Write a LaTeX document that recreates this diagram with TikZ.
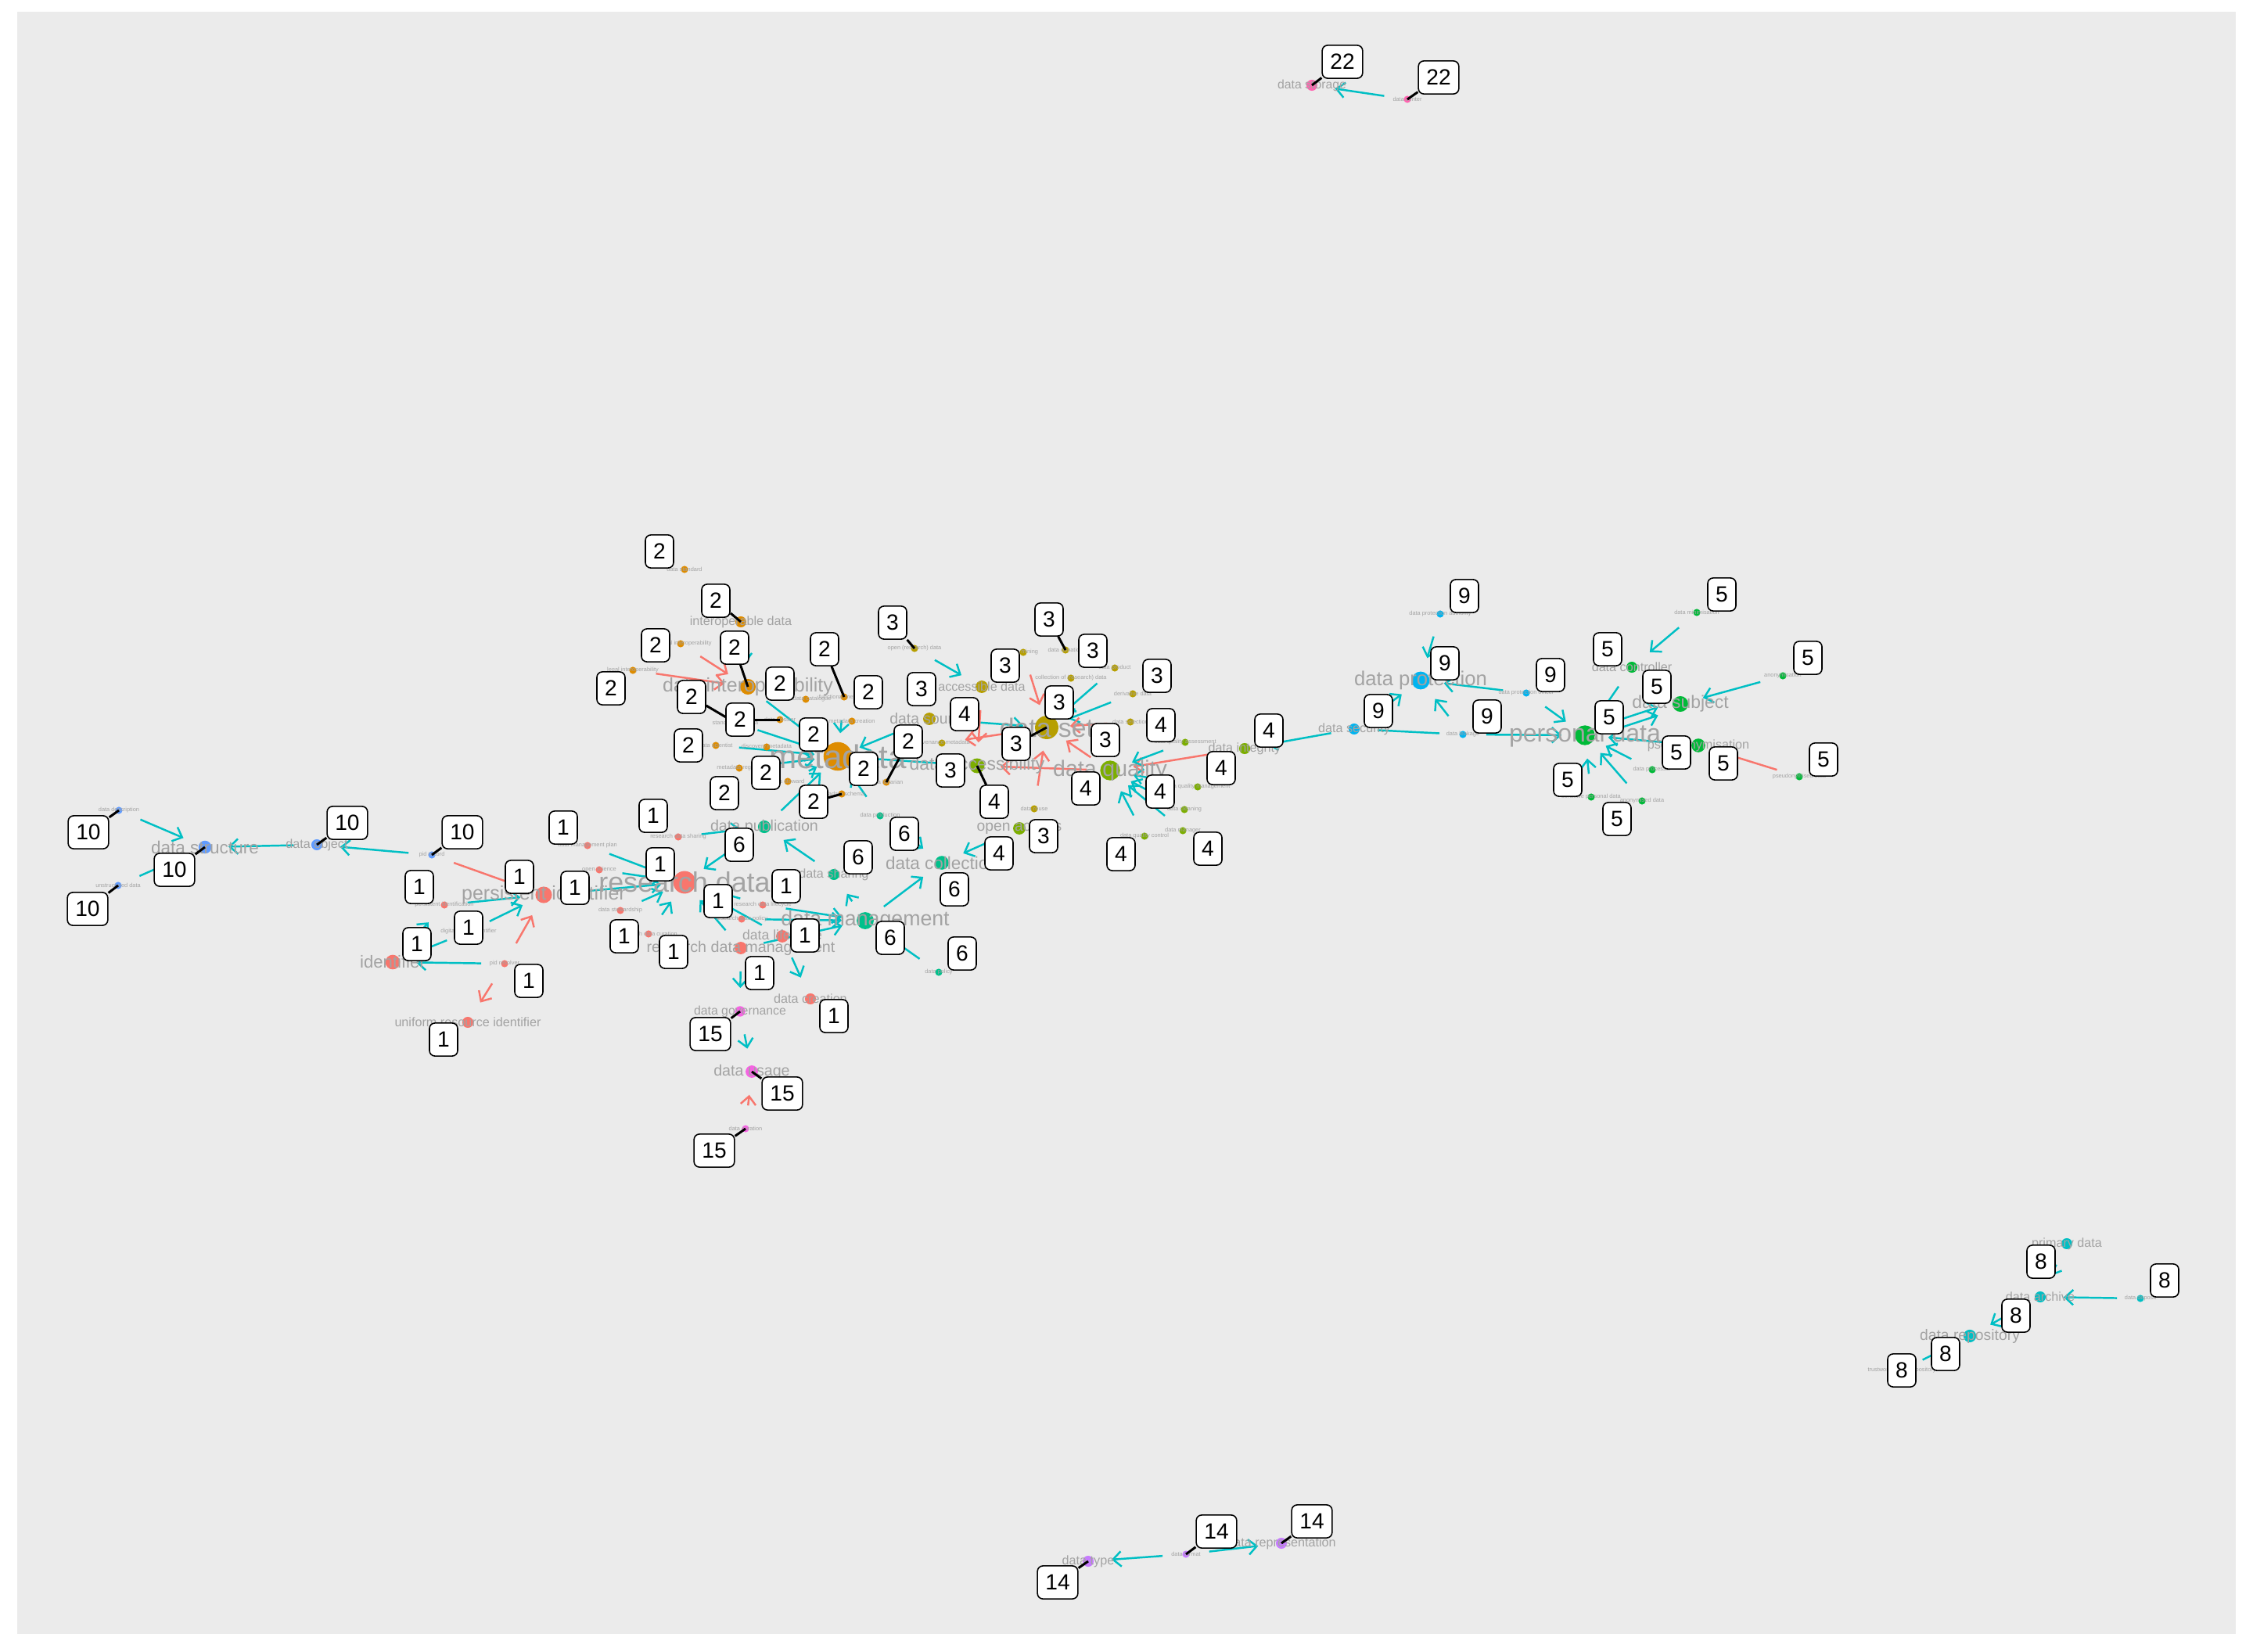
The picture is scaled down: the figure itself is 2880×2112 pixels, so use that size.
\documentclass[tikz,border=0pt]{standalone}
\usepackage{fontspec}
\setmainfont{Liberation Sans}
\usetikzlibrary{arrows.meta}

\definecolor{c1}{HTML}{F8766D}
\definecolor{c2}{HTML}{DE8C00}
\definecolor{c3}{HTML}{B79F00}
\definecolor{c4}{HTML}{7CAE00}
\definecolor{c5}{HTML}{00BA38}
\definecolor{c6}{HTML}{00C08B}
\definecolor{c8}{HTML}{00BFC4}
\definecolor{c9}{HTML}{00B4F0}
\definecolor{c10}{HTML}{619CFF}
\definecolor{c14}{HTML}{C77CFF}
\definecolor{c15}{HTML}{F564E3}
\definecolor{c22}{HTML}{FF64B0}
\definecolor{edgecyan}{HTML}{00BFC4}
\definecolor{edgered}{HTML}{F8766D}
\definecolor{labgrey}{HTML}{A3A3A3}
\definecolor{panelgrey}{HTML}{EBEBEB}

\pgfdeclarelayer{bg}\pgfdeclarelayer{edges}\pgfdeclarelayer{lead}\pgfdeclarelayer{top}
\pgfsetlayers{bg,edges,main,lead,top}

\begin{document}
\begin{tikzpicture}[x=0.01cm, y=-0.01cm,
    kw/.style n args={3}{circle, inner sep=0pt, minimum size=#1, label={[kwlab=#2]center:#3}},
    kwlab/.style={text=labgrey, font=\fontsize{#1}{#1}\selectfont, inner sep=0pt},
    kwmin/.style={kw={2.6pt}{2.1}{#1}},
    kwsm/.style={kw={4pt}{4.6}{#1}},
    numbox/.style={draw=black, fill=white, rounded corners=2pt, line width=0.45pt, inner xsep=2.9pt, inner ysep=0pt, minimum height=12pt, font=\fontsize{8}{8}\selectfont},
    ec/.style={draw=edgecyan, line width=0.7pt, -{Straight Barb[length=3pt,width=5.5pt]}, shorten <=8.5pt, shorten >=8.5pt},
    er/.style={ec, draw=edgered},
    leader/.style={draw=black, line width=0.85pt}]

    \useasboundingbox (0,0) rectangle (2880,2112);
    \begin{pgfonlayer}{bg}
        \fill[white] (0,0) rectangle (2880,2112);
        \fill[panelgrey] (22,15) rectangle (2858,2089);       % plot panel
    \end{pgfonlayer}

    % terms - coordinates are in pixels of the plot, y going down
    % group 22
    \node[kw={4pt}{4.5}{data storage}, fill=c22] (dstore) at (1677,109) {};
    \node[kwmin={data center}, fill=c22] (dcenter) at (1799,127) {};
    % group 10
    \node[kwmin={data description}, fill=c10] (ddesc) at (152,1036) {};
    \node[kw={4.7pt}{6.4}{data structure}, fill=c10] (dstruct) at (262,1083) {};
    \node[kwmin={unstructured data}, fill=c10] (unstruct) at (151,1132) {};
    \node[kwsm={data object}, fill=c10] (dobject) at (405,1080) {};
    \node[kwmin={pid record}, fill=c10] (pidrec) at (552,1093) {};
    % group 1
    \node[kw={6pt}{7.1}{persistent identifier}, fill=c1] (pid) at (695,1144) {};
    \node[kw={8.2pt}{10.2}{research data}, fill=c1] (rdata) at (875,1128) {};
    \node[kwmin={persistent identification}, fill=c1] (pidf) at (568,1157) {};
    \node[kwmin={digital object identifier}, fill=c1] (doi) at (599,1191) {};
    \node[kw={5.3pt}{6.3}{identifier}, fill=c1] (ident) at (502,1230) {};
    \node[kwmin={pid resolver}, fill=c1] (pidres) at (645,1232) {};
    \node[kwsm={uniform resource identifier}, fill=c1] (uri) at (598,1307) {};
    \node[kwmin={data management plan}, fill=c1] (dmp) at (751,1081) {};
    \node[kwmin={open science}, fill=c1] (osci) at (766,1112) {};
    \node[kwmin={data stewardship}, fill=c1] (dstew) at (793,1164) {};
    \node[kwmin={research data curation}, fill=c1] (rdcur) at (829,1194) {};
    \node[kwmin={research data sharing}, fill=c1] (rdshare) at (867,1070) {};
    \node[kwmin={research data lifecycle}, fill=c1] (rdlife) at (975,1157) {};
    \node[kwmin={research data policy}, fill=c1] (rdpol) at (948,1175) {};
    \node[kw={4.5pt}{5}{data lifecycle}, fill=c1] (dlife) at (1000,1197) {};
    \node[kw={4.5pt}{5.6}{research data management}, fill=c1] (rdm) at (947,1212) {};
    \node[kwsm={data creation}, fill=c1] (dcreat) at (1036,1277) {};
    % group 6
    \node[kw={4.6pt}{5.6}{data publication}, fill=c6] (dpub) at (977,1057) {};
    \node[kwsm={data sharing}, fill=c6] (dshare) at (1066,1118) {};
    \node[kw={6.2pt}{7.6}{data management}, fill=c6] (dman) at (1106,1177) {};
    \node[kwmin={data policy}, fill=c6] (dpolicy) at (1200,1243) {};
    \node[kw={5pt}{6.4}{data collection}, fill=c6] (dcoll) at (1204,1103) {};
    \node[kwmin={data production}, fill=c6] (dprod) at (1125,1043) {};
    % group 15
    \node[kw={3.8pt}{4.5}{data governance}, fill=c15] (dgov) at (946,1293) {};
    \node[kw={4.5pt}{5.6}{data usage}, fill=c15] (dusage) at (961,1370) {};
    \node[kwmin={data curation}, fill=c15] (dcur) at (953,1443) {};
    % group 2
    \node[kw={10.4pt}{12}{metadata}, fill=c2] (meta) at (1071,967) {};
    \node[kw={5.7pt}{7.1}{data interoperability}, fill=c2] (dinterop) at (956,878) {};
    \node[kwsm={interoperable data}, fill=c2] (interopd) at (947,795) {};
    \node[kwmin={data standard}, fill=c2] (dstd) at (875,728) {};
    \node[kwmin={technical interoperability}, fill=c2] (techint) at (870,823) {};
    \node[kwmin={legal interoperability}, fill=c2] (legalint) at (809,857) {};
    \node[kwmin={functional metadata}, fill=c2] (funcmeta) at (1079,891) {};
    \node[kwmin={metadata catalogue}, fill=c2] (metacat) at (1030,894) {};
    \node[kwmin={data dossier}, fill=c2] (ddossier) at (997,920) {};
    \node[kwmin={standardised data}, fill=c2] (stdata) at (940,924) {};
    \node[kwmin={metadata creation}, fill=c2] (metacre) at (1089,922) {};
    \node[kwmin={discovery metadata}, fill=c2] (discmeta) at (980,955) {};
    \node[kwmin={data scientist}, fill=c2] (dsci) at (915,953) {};
    \node[kwmin={metadata registry}, fill=c2] (metareg) at (945,982) {};
    \node[kwmin={data steward}, fill=c2] (dsteward) at (1007,999) {};
    \node[kwmin={metadata schema}, fill=c2] (metasch) at (1076,1015) {};
    \node[kwmin={data librarian}, fill=c2] (dlib) at (1133,1000) {};
    % group 3
    \node[kw={8.5pt}{9.6}{data set}, fill=c3] (dset) at (1338,930) {};
    \node[kw={4.5pt}{4.6}{accessible data}, fill=c3] (accd) at (1255,878) {};
    \node[kwmin={open (research) data}, fill=c3] (orddata) at (1169,829) {};
    \node[kw={4.5pt}{5.5}{data source}, fill=c3] (dsource) at (1188,919) {};
    \node[kwmin={data mining}, fill=c3] (dmining) at (1308,834) {};
    \node[kwmin={data donation}, fill=c3] (ddonation) at (1362,831) {};
    \node[kwmin={data product}, fill=c3] (dproduct) at (1425,854) {};
    \node[kwmin={collection of (research) data}, fill=c3] (collrd) at (1369,867) {};
    \node[kwmin={derivative data}, fill=c3] (derivd) at (1448,887) {};
    \node[kwmin={data selection}, fill=c3] (dselect) at (1445,923) {};
    \node[kwmin={provenance metadata}, fill=c3] (provmeta) at (1204,950) {};
    \node[kwmin={data reuse}, fill=c3] (dreuse) at (1322,1034) {};
    % group 4
    \node[kw={5.4pt}{6.5}{data accessibility}, fill=c4] (dacc) at (1249,979) {};
    \node[kw={7.2pt}{8.1}{data quality}, fill=c4] (dqual) at (1419,985) {};
    \node[kwsm={data integrity}, fill=c4] (dinteg) at (1591,957) {};
    \node[kwmin={data quality assessment}, fill=c4] (dqa) at (1515,949) {};
    \node[kwmin={data quality management}, fill=c4] (dqm) at (1531,1006) {};
    \node[kwmin={data cleaning}, fill=c4] (dclean) at (1514,1035) {};
    \node[kwmin={data manager}, fill=c4] (dmanager) at (1512,1062) {};
    \node[kwmin={data quality control}, fill=c4] (dqc) at (1463,1069) {};
    \node[kw={4.5pt}{5.5}{open access}, fill=c4] (oacc) at (1303,1059) {};
    % group 9
    \node[kw={6.5pt}{7.3}{data protection}, fill=c9] (dprot) at (1816,870) {};
    \node[kwmin={data protection authority}, fill=c9] (dpa) at (1841,785) {};
    \node[kwmin={data protection officer}, fill=c9] (dpo) at (1951,886) {};
    \node[kwmin={data leakage}, fill=c9] (dleak) at (1870,939) {};
    \node[kwsm={data security}, fill=c9] (dsec) at (1731,932) {};
    % group 5
    \node[kw={7.2pt}{9.1}{personal data}, fill=c5] (pdata) at (2026,940) {};
    \node[kwsm={data controller}, fill=c5] (dctrl) at (2086,853) {};
    \node[kwmin={data minimisation}, fill=c5] (dmin) at (2169,783) {};
    \node[kw={5.7pt}{6.5}{data subject}, fill=c5] (dsubj) at (2148,900) {};
    \node[kwmin={anonymisation}, fill=c5] (anonym) at (2279,864) {};
    \node[kw={5pt}{4.6}{pseudonymisation}, fill=c5] (pseudo) at (2171,953) {};
    \node[kwmin={pseudonymised data}, fill=c5] (pseudod) at (2300,993) {};
    \node[kwmin={data processor}, fill=c5] (dproc) at (2112,984) {};
    \node[kwmin={sensitive personal data}, fill=c5] (sensp) at (2034,1019) {};
    \node[kwmin={anonymised data}, fill=c5] (anond) at (2099,1024) {};
    % group 8
    \node[kwsm={primary data}, fill=c8] (primd) at (2642,1590) {};
    \node[kwsm={data archive}, fill=c8] (darch) at (2608,1658) {};
    \node[kwmin={data deposit}, fill=c8] (ddep) at (2736,1660) {};
    \node[kw={4.6pt}{5.5}{data repository}, fill=c8] (drepo) at (2518,1708) {};
    \node[kwmin={trustworthy data repository}, fill=c8] (tdr) at (2431,1752) {};
    % group 14
    \node[kwsm={data type}, fill=c14] (dtype) at (1391,1996) {};
    \node[kwmin={data format}, fill=c14] (dformat) at (1516,1987) {};
    \node[kwsm={data representation}, fill=c14] (drep) at (1638,1973) {};

    % relations, under the terms
    \begin{pgfonlayer}{edges}
        \draw[ec] (dcenter.center) -- (dstore.center);
        \draw[ec] (ddesc.center) -- (dstruct.center);
        \draw[ec] (unstruct.center) -- (dstruct.center);
        \draw[ec] (dobject.center) -- (dstruct.center);
        \draw[ec] (pidrec.center) -- (dobject.center);
        \draw[er] (pidrec.center) -- (pid.center);
        \draw[ec] (pidf.center) -- (pid.center);
        \draw[ec] (doi.center) -- (pid.center);
        \draw[er] (pidres.center) -- (pid.center);
        \draw[er] (pidres.center) -- (uri.center);
        \draw[ec] (pidres.center) -- (ident.center);
        \draw[ec] (ident.center) -- (pidf.center);
        \draw[ec] (doi.center) -- (ident.center);
        \draw[ec] (dmp.center) -- (rdata.center);
        \draw[ec] (osci.center) -- (rdata.center);
        \draw[ec] (pid.center) -- (rdata.center);
        \draw[ec] (dstew.center) -- (rdata.center);
        \draw[ec] (rdcur.center) -- (rdata.center);
        \draw[ec] (rdshare.center) -- (dpub.center);
        \draw[ec] (dpub.center) -- (rdata.center);
        \draw[ec] (rdlife.center) -- (rdata.center);
        \draw[ec] (rdm.center) -- (rdata.center);
        \draw[ec] (dlife.center) -- (rdata.center);
        \draw[ec] (rdlife.center) -- (dman.center);
        \draw[ec] (rdpol.center) -- (dman.center);
        \draw[ec] (rdm.center) -- (dman.center);
        \draw[ec] (rdm.center) -- (dgov.center);
        \draw[ec] (dlife.center) -- (dcreat.center);
        \draw[ec] (dshare.center) -- (dpub.center);
        \draw[ec] (dman.center) -- (dshare.center);
        \draw[ec] (dman.center) -- (dcoll.center);
        \draw[ec] (dpolicy.center) -- (dman.center);
        \draw[ec] (dprod.center) -- (dcoll.center);
        \draw[ec] (oacc.center) -- (dcoll.center);
        \draw[ec] (dpub.center) -- (meta.center);
        \draw[ec] (dprod.center) -- (meta.center);
        \draw[ec] (dgov.center) -- (dusage.center);
        \draw[er] (dcur.center) -- (dusage.center);
        \draw[er] (techint.center) -- (dinterop.center);
        \draw[er] (legalint.center) -- (dinterop.center);
        \draw[ec] (interopd.center) -- (dinterop.center);
        \draw[ec] (dinterop.center) -- (meta.center);
        \draw[ec] (funcmeta.center) -- (meta.center);
        \draw[ec] (dsci.center) -- (meta.center);
        \draw[ec] (metareg.center) -- (meta.center);
        \draw[ec] (dsteward.center) -- (meta.center);
        \draw[ec] (stdata.center) -- (meta.center);
        \draw[ec] (ddossier.center) -- (meta.center);
        \draw[ec] (dsource.center) -- (meta.center);
        \draw[ec] (dacc.center) -- (meta.center);
        \draw[ec] (orddata.center) -- (accd.center);
        \draw[er] (dmining.center) -- (dset.center);
        \draw[er] (collrd.center) -- (dset.center);
        \draw[ec] (dproduct.center) -- (dset.center);
        \draw[ec] (derivd.center) -- (dset.center);
        \draw[er] (dselect.center) -- (dset.center);
        \draw[ec] (dsource.center) -- (dset.center);
        \draw[er] (accd.center) -- (dacc.center);
        \draw[er] (dset.center) -- (provmeta.center);
        \draw[er] (dreuse.center) -- (dset.center);
        \draw[er] (dqual.center) -- (dset.center);
        \draw[er] (dqual.center) -- (dacc.center);
        \draw[er] (dinteg.center) -- (dqual.center);
        \draw[ec] (dqa.center) -- (dqual.center);
        \draw[ec] (dqm.center) -- (dqual.center);
        \draw[ec] (dclean.center) -- (dqual.center);
        \draw[ec] (dmanager.center) -- (dqual.center);
        \draw[ec] (dqc.center) -- (dqual.center);
        \draw[ec] (dsec.center) -- (dinteg.center);
        \draw[ec] (dpa.center) -- (dprot.center);
        \draw[ec] (dpo.center) -- (dprot.center);
        \draw[ec] (dleak.center) -- (dprot.center);
        \draw[ec] (dsec.center) -- (dprot.center);
        \draw[ec, -] (dleak.center) -- (dsec.center);     % tip hidden in the plot
        \draw[ec] (dleak.center) -- (pdata.center);
        \draw[ec] (dpo.center) -- (pdata.center);
        \draw[ec] (dmin.center) -- (dctrl.center);
        \draw[ec] (dctrl.center) -- (pdata.center);
        \draw[ec, transform canvas={yshift=1.5pt}] (pdata.center) -- (dsubj.center);    % two relations
        \draw[ec, transform canvas={yshift=-1.5pt}] (pdata.center) -- (dsubj.center);
        \draw[ec] (anonym.center) -- (dsubj.center);
        \draw[ec] (pseudo.center) -- (pdata.center);
        \draw[er] (pseudod.center) -- (pseudo.center);
        \draw[ec] (dproc.center) -- (pdata.center);
        \draw[ec] (anond.center) -- (pdata.center);
        \draw[ec] (sensp.center) -- (pdata.center);
        \draw[ec] (ddep.center) -- (darch.center);
        \draw[ec] (darch.center) -- (drepo.center);
        \draw[ec] (primd.center) -- (darch.center);
        \draw[ec] (tdr.center) -- (drepo.center);
        \draw[ec] (dformat.center) -- (dtype.center);
        \draw[ec] (dformat.center) -- (drep.center);
    \end{pgfonlayer}

    % group number boxes
    \begin{pgfonlayer}{top}
        \node[numbox] (b22a) at (1716,79) {22};
        \node[numbox] (b22b) at (1839,99) {22};
        \node[numbox] (b10a) at (113,1064) {10};
        \node[numbox] (b10b) at (444,1052) {10};
        \node[numbox] (b10c) at (591,1064) {10};
        \node[numbox] (b10d) at (223,1112) {10};
        \node[numbox] (b10e) at (112,1162) {10};
        \node[numbox] (b1a) at (720,1058) {1};
        \node[numbox] (b1b) at (835,1043) {1};
        \node[numbox] (b1c) at (536,1134) {1};
        \node[numbox] (b1d) at (664,1121) {1};
        \node[numbox] (b1e) at (735,1135) {1};
        \node[numbox] (b1f) at (844,1105) {1};
        \node[numbox] (b1g) at (599,1186) {1};
        \node[numbox] (b1h) at (533,1207) {1};
        \node[numbox] (b1i) at (676,1254) {1};
        \node[numbox] (b1j) at (567,1329) {1};
        \node[numbox] (b1k) at (798,1197) {1};
        \node[numbox] (b1l) at (861,1217) {1};
        \node[numbox] (b1m) at (918,1152) {1};
        \node[numbox] (b1n) at (1005,1133) {1};
        \node[numbox] (b1o) at (1029,1196) {1};
        \node[numbox] (b1p) at (971,1244) {1};
        \node[numbox] (b1q) at (1066,1299) {1};
        \node[numbox] (b6a) at (945,1080) {6};
        \node[numbox] (b6b) at (1097,1096) {6};
        \node[numbox] (b6c) at (1156,1066) {6};
        \node[numbox] (b6d) at (1220,1137) {6};
        \node[numbox] (b6e) at (1138,1199) {6};
        \node[numbox] (b6f) at (1230,1219) {6};
        \node[numbox] (b15a) at (908,1322) {15};
        \node[numbox] (b15b) at (1000,1398) {15};
        \node[numbox] (b15c) at (913,1471) {15};
        \node[numbox] (b2a) at (843,705) {2};
        \node[numbox] (b2b) at (915,768) {2};
        \node[numbox] (b2c) at (838,825) {2};
        \node[numbox] (b2d) at (939,828) {2};
        \node[numbox] (b2e) at (781,880) {2};
        \node[numbox] (b2f) at (1054,830) {2};
        \node[numbox] (b2g) at (997,874) {2};
        \node[numbox] (b2h) at (1110,885) {2};
        \node[numbox] (b2i) at (884,891) {2};
        \node[numbox] (b2j) at (946,920) {2};
        \node[numbox] (b2k) at (880,953) {2};
        \node[numbox] (b2l) at (1040,939) {2};
        \node[numbox] (b2m) at (1161,948) {2};
        \node[numbox] (b2n) at (926,1014) {2};
        \node[numbox] (b2o) at (979,988) {2};
        \node[numbox] (b2p) at (1040,1025) {2};
        \node[numbox] (b2q) at (1104,983) {2};
        \node[numbox] (b3a) at (1141,796) {3};
        \node[numbox] (b3b) at (1341,792) {3};
        \node[numbox] (b3c) at (1397,832) {3};
        \node[numbox] (b3d) at (1285,851) {3};
        \node[numbox] (b3e) at (1479,864) {3};
        \node[numbox] (b3f) at (1178,881) {3};
        \node[numbox] (b3g) at (1354,898) {3};
        \node[numbox] (b3h) at (1299,951) {3};
        \node[numbox] (b3i) at (1413,946) {3};
        \node[numbox] (b3j) at (1215,985) {3};
        \node[numbox] (b3k) at (1334,1069) {3};
        \node[numbox] (b4a) at (1233,913) {4};
        \node[numbox] (b4b) at (1484,927) {4};
        \node[numbox] (b4c) at (1622,934) {4};
        \node[numbox] (b4d) at (1561,982) {4};
        \node[numbox] (b4e) at (1388,1008) {4};
        \node[numbox] (b4f) at (1483,1012) {4};
        \node[numbox] (b4g) at (1271,1025) {4};
        \node[numbox] (b4h) at (1277,1091) {4};
        \node[numbox] (b4i) at (1433,1092) {4};
        \node[numbox] (b4j) at (1544,1085) {4};
        \node[numbox] (b9a) at (1872,762) {9};
        \node[numbox] (b9b) at (1847,848) {9};
        \node[numbox] (b9c) at (1982,863) {9};
        \node[numbox] (b9d) at (1901,916) {9};
        \node[numbox] (b9e) at (1762,909) {9};
        \node[numbox] (b5a) at (2201,760) {5};
        \node[numbox] (b5b) at (2055,830) {5};
        \node[numbox] (b5c) at (2311,841) {5};
        \node[numbox] (b5d) at (2118,878) {5};
        \node[numbox] (b5e) at (2057,917) {5};
        \node[numbox] (b5f) at (2143,962) {5};
        \node[numbox] (b5g) at (2203,976) {5};
        \node[numbox] (b5h) at (2331,971) {5};
        \node[numbox] (b5i) at (2004,997) {5};
        \node[numbox] (b5j) at (2067,1047) {5};
        \node[numbox] (b8a) at (2609,1613) {8};
        \node[numbox] (b8b) at (2767,1637) {8};
        \node[numbox] (b8c) at (2577,1682) {8};
        \node[numbox] (b8d) at (2487,1731) {8};
        \node[numbox] (b8e) at (2431,1752) {8};
        \node[numbox] (b14a) at (1352,2023) {14};
        \node[numbox] (b14b) at (1555,1958) {14};
        \node[numbox] (b14c) at (1677,1945) {14};
    \end{pgfonlayer}

    % leader lines from boxes to their terms
    \begin{pgfonlayer}{lead}
        \draw[leader] (dstore.center) -- (b22a);
        \draw[leader] (dcenter.center) -- (b22b);
        \draw[leader] (ddesc.center) -- (b10a);
        \draw[leader] (dobject.center) -- (b10b);
        \draw[leader] (pidrec.center) -- (b10c);
        \draw[leader] (dstruct.center) -- (b10d);
        \draw[leader] (unstruct.center) -- (b10e);
        \draw[leader] (dgov.center) -- (b15a);
        \draw[leader] (dusage.center) -- (b15b);
        \draw[leader] (dcur.center) -- (b15c);
        \draw[leader] (interopd.center) -- (b2b);
        \draw[leader] (dinterop.center) -- (b2d);
        \draw[leader] (funcmeta.center) -- (b2f);
        \draw[leader] (stdata.center) -- (b2i);
        \draw[leader] (ddossier.center) -- (b2j);
        \draw[leader] (dlib.center) -- (b2m);
        \draw[leader] (metasch.center) -- (b2p);
        \draw[leader] (orddata.center) -- (b3a);
        \draw[leader] (ddonation.center) -- (b3b);
        \draw[leader] (dset.center) -- (b3h);
        \draw[leader] (dacc.center) -- (b4g);
        \draw[leader] (dtype.center) -- (b14a);
        \draw[leader] (dformat.center) -- (b14b);
        \draw[leader] (drep.center) -- (b14c);
    \end{pgfonlayer}
\end{tikzpicture}
\end{document}
